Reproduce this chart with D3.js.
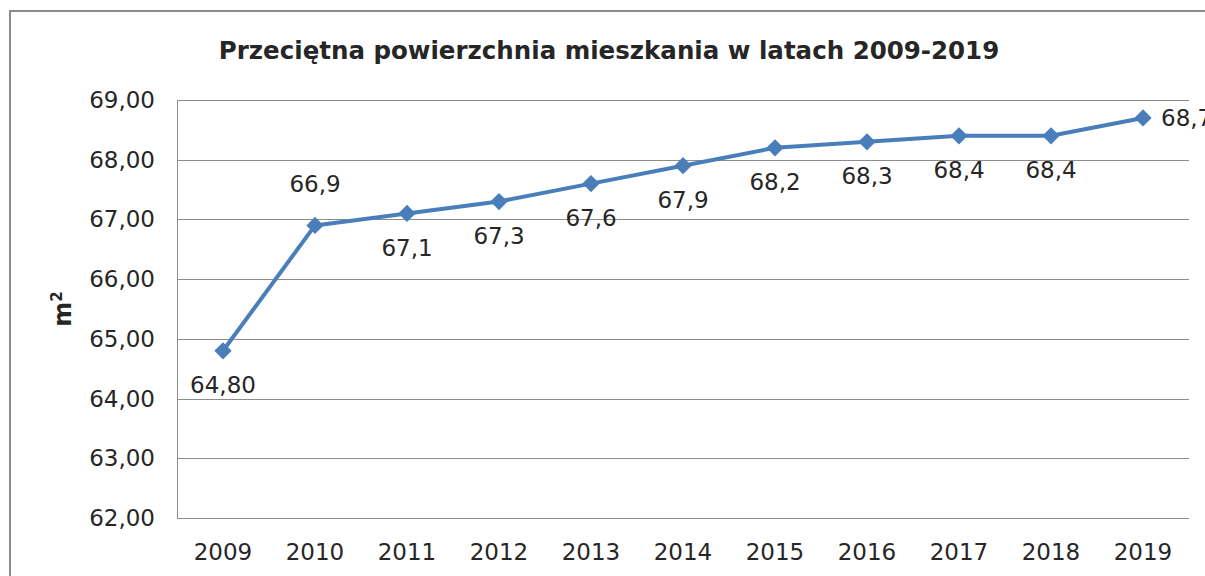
<!DOCTYPE html>
<html lang="pl">
<head>
<meta charset="UTF-8">
<title>Przeciętna powierzchnia mieszkania</title>
<script src="https://d3js.org/d3.v7.min.js"></script>
<style>
  body { margin: 0; background: #fff; }
  svg text { font-family: "DejaVu Sans", sans-serif; fill: #262626; }
</style>
</head>
<body>
<svg id="chart" width="1205" height="576"></svg>
<script>
const years = ['2009', '2010', '2011', '2012', '2013', '2014', '2015', '2016', '2017', '2018', '2019'];
const area = [64.8, 66.9, 67.1, 67.3, 67.6, 67.9, 68.2, 68.3, 68.4, 68.4, 68.7];
const labels = ['64,80', '66,9', '67,1', '67,3', '67,6', '67,9', '68,2', '68,3', '68,4', '68,4', '68,7'];
// where each value label sits relative to its point
const labelPos = ['below', 'above', 'below', 'below', 'below', 'below', 'below', 'below', 'below', 'below', 'right'];
const yTicks = [62, 63, 64, 65, 66, 67, 68, 69];

const svg = d3.select('#chart');
const margin = { top: 100, left: 177, right: 16, bottom: 58 };
const W = 1205, H = 576;

// outer chart frame (cut off on the right and bottom)
svg.append('rect')
  .attr('x', 10).attr('y', 11)
  .attr('width', 1220).attr('height', 600)
  .attr('fill', 'none').attr('stroke', '#8c8c8c').attr('stroke-width', 2);

const x = d3.scaleBand().domain(years).range([margin.left, W - margin.right]);
const y = d3.scaleLinear().domain([62, 69]).range([H - margin.bottom, margin.top]);

// gridlines
svg.append('g').selectAll('line').data(yTicks).enter().append('line')
  .attr('x1', margin.left).attr('x2', W - margin.right)
  .attr('y1', d => Math.round(y(d)) + 0.5).attr('y2', d => Math.round(y(d)) + 0.5)
  .attr('stroke', '#8c8c8c').attr('stroke-width', 1);

// left axis line
svg.append('line')
  .attr('x1', margin.left + 0.5).attr('x2', margin.left + 0.5)
  .attr('y1', y(69)).attr('y2', y(62))
  .attr('stroke', '#8c8c8c');

// y tick labels
svg.append('g').selectAll('text').data(yTicks).enter().append('text')
  .attr('x', margin.left - 22).attr('y', d => y(d))
  .attr('dy', '0.35em').attr('text-anchor', 'end')
  .style('font-size', '23px')
  .text(d => d3.format('.2f')(d).replace('.', ','));

// x tick labels
svg.append('g').selectAll('text').data(years).enter().append('text')
  .attr('x', d => x(d) + x.bandwidth() / 2).attr('y', H - margin.bottom + 42)
  .attr('text-anchor', 'middle')
  .style('font-size', '23px')
  .text(d => d);

// y axis title
svg.append('text')
  .attr('transform', `translate(71,${(y(62) + y(69)) / 2}) rotate(-90)`)
  .attr('text-anchor', 'middle')
  .style('font-size', '24px').style('font-weight', 'bold')
  .html('m<tspan dy="-9" font-size="15">2</tspan>');

// title
svg.append('text')
  .attr('x', 609).attr('y', 59)
  .attr('text-anchor', 'middle')
  .style('font-size', '24.5px').style('font-weight', 'bold')
  .text('Przeciętna powierzchnia mieszkania w latach 2009-2019');

const cx = (d, i) => x(years[i]) + x.bandwidth() / 2;

const line = d3.line()
  .x((d, i) => cx(d, i))
  .y(d => y(d));

svg.append('path')
  .datum(area)
  .attr('d', line)
  .attr('fill', 'none')
  .attr('stroke', '#4a7ebb')
  .attr('stroke-width', 4)
  .attr('stroke-linejoin', 'round');

const diamond = d3.symbol().type(d3.symbolDiamond2).size(190);
svg.append('g').selectAll('path').data(area).enter().append('path')
  .attr('d', diamond)
  .attr('transform', (d, i) => `translate(${cx(d, i)},${y(d)})`)
  .attr('fill', '#4a7ebb');

// value labels
svg.append('g').selectAll('text').data(area).enter().append('text')
  .attr('x', (d, i) => labelPos[i] === 'right' ? cx(d, i) + 18 : cx(d, i))
  .attr('y', (d, i) => labelPos[i] === 'above' ? y(d) - 41 : labelPos[i] === 'below' ? y(d) + 34 : y(d))
  .attr('dy', '0.35em')
  .attr('text-anchor', (d, i) => labelPos[i] === 'right' ? 'start' : 'middle')
  .style('font-size', '23px')
  .text((d, i) => labels[i]);
</script>
</body>
</html>
